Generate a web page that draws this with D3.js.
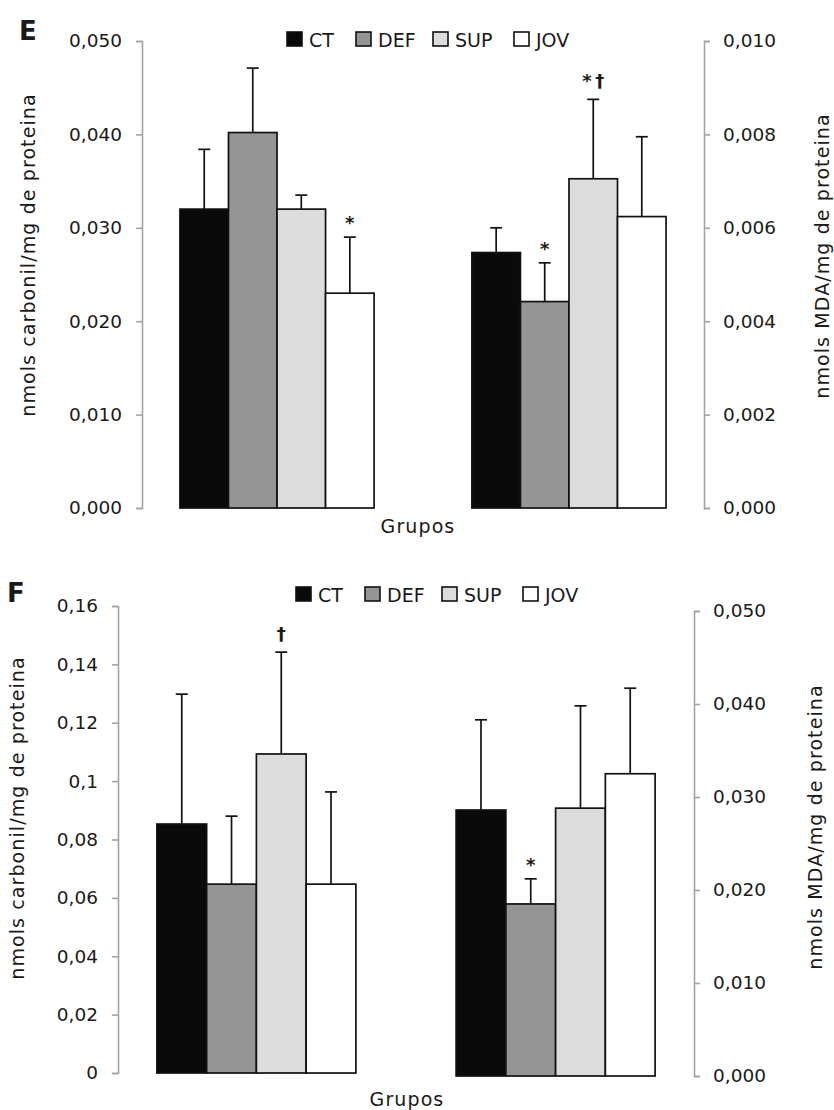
<!DOCTYPE html>
<html>
<head>
<meta charset="utf-8">
<script src="https://cdn.jsdelivr.net/npm/d3@7"></script>
<style>
  body { margin: 0; background: #fff; }
  svg text { font-family: "DejaVu Sans", sans-serif; fill: #1a1a1a; }
</style>
</head>
<body>
<div id="chart"></div>
<script>
// groups and colours
var groups = ["CT", "DEF", "SUP", "JOV"];
var groupColors = ["#0a0a0a", "#959595", "#dcdcdc", "#ffffff"];
var measures = ["carbonil", "MDA"];

// panel E
var eCarbonil = [0.0320, 0.0402, 0.0320, 0.0230];
var eCarbonilErr = [0.0064, 0.0069, 0.0015, 0.0060];
var eCarbonilSig = ["", "", "", "*"];
var eMda = [0.00547, 0.00442, 0.00705, 0.00624];
var eMdaErr = [0.00053, 0.00083, 0.00170, 0.00171];
var eMdaSig = ["", "*", "*\u2009†", ""];
var eLeftTicks = [0, 0.01, 0.02, 0.03, 0.04, 0.05];
var eRightTicks = [0, 0.002, 0.004, 0.006, 0.008, 0.01];

// panel F
var fCarbonil = [0.0853, 0.0647, 0.1093, 0.0647];
var fCarbonilErr = [0.0445, 0.0233, 0.0349, 0.0316];
var fCarbonilSig = ["", "", "†", ""];
var fMda = [0.0286, 0.0185, 0.0288, 0.0325];
var fMdaErr = [0.0097, 0.0027, 0.0110, 0.0092];
var fMdaSig = ["", "*", "", ""];
var fLeftTicks = [0, 0.02, 0.04, 0.06, 0.08, 0.1, 0.12, 0.14, 0.16];
var fRightTicks = [0, 0.01, 0.02, 0.03, 0.04, 0.05];

var leftLabel = "nmols carbonil/mg de proteina";
var rightLabel = "nmols MDA/mg de proteina";
var xLabel = "Grupos";

var pt = d3.formatLocale({decimal: ",", thousands: ".", grouping: [3], currency: ["", ""]});

var svg = d3.select("#chart")
  .append("svg")
  .attr("width", 834)
  .attr("height", 1110);

// layout of each panel
var panels = [
  {
    letter: "E", letterX: 19, letterY: 40,
    left: eCarbonil, leftErr: eCarbonilErr, leftSig: eCarbonilSig,
    right: eMda, rightErr: eMdaErr, rightSig: eMdaSig,
    leftTicks: eLeftTicks, rightTicks: eRightTicks,
    leftFmt: pt.format(".3f"), rightFmt: pt.format(".3f"),
    axisL: 142, axisR: 704,
    yL: [508, 41], yR: [508, 41],
    legendX: 287, legendY: 32,
    leftLabelPos: [35, 255], rightLabelPos: [829, 256],
    xLabelPos: [418, 533]
  },
  {
    letter: "F", letterX: 7, letterY: 602,
    left: fCarbonil, leftErr: fCarbonilErr, leftSig: fCarbonilSig,
    right: fMda, rightErr: fMdaErr, rightSig: fMdaSig,
    leftTicks: fLeftTicks, rightTicks: fRightTicks,
    leftFmt: pt.format(".2~f"), rightFmt: pt.format(".3f"),
    axisL: 118, axisR: 694,
    yL: [1073, 606], yR: [1076, 611],
    legendX: 296, legendY: 587,
    leftLabelPos: [24, 818], rightLabelPos: [822, 827],
    xLabelPos: [407, 1106]
  }
];

var legendOffsets = [0, 69, 146, 227];

panels.forEach(function(p) {
  var g = svg.append("g");

  // scales
  var x0 = d3.scaleBand()
    .domain(measures)
    .range([p.axisL, p.axisR])
    .paddingInner(0.335)
    .paddingOuter(0.13);
  var x1 = d3.scaleBand()
    .domain(groups)
    .range([0, x0.bandwidth()]);
  var yLeft = d3.scaleLinear()
    .domain([0, d3.max(p.leftTicks)])
    .range(p.yL);
  var yRight = d3.scaleLinear()
    .domain([0, d3.max(p.rightTicks)])
    .range(p.yR);

  // axes
  var axL = g.append("g")
    .attr("transform", "translate(" + p.axisL + ",0)")
    .call(d3.axisLeft(yLeft).tickValues(p.leftTicks).tickFormat(p.leftFmt)
      .tickSizeOuter(0).tickSize(6).tickPadding(14));
  var axR = g.append("g")
    .attr("transform", "translate(" + p.axisR + ",0)")
    .call(d3.axisRight(yRight).tickValues(p.rightTicks).tickFormat(p.rightFmt)
      .tickSizeOuter(0).tickSize(6).tickPadding(13));
  [axL, axR].forEach(function(ax) {
    ax.select(".domain").attr("stroke", "#a3a3a3").attr("stroke-width", 1.6);
    ax.selectAll(".tick line").attr("stroke", "#a3a3a3").attr("stroke-width", 1.6);
    ax.selectAll(".tick text")
      .attr("font-size", 18.5)
      .attr("font-family", "DejaVu Sans, sans-serif")
      .attr("fill", "#1a1a1a");
  });

  // bars + error bars for both measures
  var sets = [
    {m: "carbonil", vals: p.left, errs: p.leftErr, sig: p.leftSig, y: yLeft},
    {m: "MDA", vals: p.right, errs: p.rightErr, sig: p.rightSig, y: yRight}
  ];
  sets.forEach(function(s) {
    var rows = groups.map(function(k, i) {
      return {k: k, v: s.vals[i], e: s.errs[i], sig: s.sig[i], c: groupColors[i]};
    });
    var sg = g.append("g")
      .attr("transform", "translate(" + x0(s.m) + ",0)");

    // error bars (upper only), drawn first so bars cover the stem
    var eb = sg.selectAll(".err")
      .data(rows)
      .enter()
      .append("g");
    eb.append("line")
      .attr("x1", function(d) { return x1(d.k) + x1.bandwidth() / 2; })
      .attr("x2", function(d) { return x1(d.k) + x1.bandwidth() / 2; })
      .attr("y1", function(d) { return s.y(d.v); })
      .attr("y2", function(d) { return s.y(d.v + d.e); })
      .attr("stroke", "#111")
      .attr("stroke-width", 1.7);
    eb.append("line")
      .attr("x1", function(d) { return x1(d.k) + x1.bandwidth() / 2 - 6; })
      .attr("x2", function(d) { return x1(d.k) + x1.bandwidth() / 2 + 6; })
      .attr("y1", function(d) { return s.y(d.v + d.e); })
      .attr("y2", function(d) { return s.y(d.v + d.e); })
      .attr("stroke", "#111")
      .attr("stroke-width", 1.7);

    sg.selectAll(".bar")
      .data(rows)
      .enter()
      .append("rect")
      .attr("x", function(d) { return x1(d.k); })
      .attr("width", x1.bandwidth())
      .attr("y", function(d) { return s.y(d.v); })
      .attr("height", function(d) { return s.y(0) - s.y(d.v); })
      .attr("fill", function(d) { return d.c; })
      .attr("stroke", "#111")
      .attr("stroke-width", 1.7);

    // significance marks
    sg.selectAll(".sig")
      .data(rows.filter(function(d) { return d.sig !== ""; }))
      .enter()
      .append("text")
      .attr("x", function(d) { return x1(d.k) + x1.bandwidth() / 2; })
      .attr("y", function(d) {
        return s.y(d.v + d.e) - (d.sig.indexOf("†") >= 0 ? 12 : 8);
      })
      .attr("text-anchor", "middle")
      .attr("font-size", 18)
      .attr("font-weight", "bold")
      .text(function(d) { return d.sig; });
  });

  // legend
  var lg = g.append("g");
  groups.forEach(function(k, i) {
    var lx = p.legendX + legendOffsets[i];
    lg.append("rect")
      .attr("x", lx).attr("y", p.legendY)
      .attr("width", 15).attr("height", 14)
      .attr("fill", groupColors[i])
      .attr("stroke", "#111")
      .attr("stroke-width", 1.6);
    lg.append("text")
      .attr("x", lx + 22).attr("y", p.legendY + 15)
      .attr("font-size", 19)
      .text(k);
  });

  // axis labels
  g.append("text")
    .attr("text-anchor", "middle")
    .attr("font-size", 19)
    .attr("letter-spacing", 1.1)
    .attr("transform", "translate(" + p.leftLabelPos[0] + "," + p.leftLabelPos[1] + ")rotate(-90)")
    .text(leftLabel);
  g.append("text")
    .attr("text-anchor", "middle")
    .attr("font-size", 19)
    .attr("letter-spacing", 1.1)
    .attr("transform", "translate(" + p.rightLabelPos[0] + "," + p.rightLabelPos[1] + ")rotate(-90)")
    .text(rightLabel);
  g.append("text")
    .attr("text-anchor", "middle")
    .attr("font-size", 19)
    .attr("letter-spacing", 1.1)
    .attr("x", p.xLabelPos[0]).attr("y", p.xLabelPos[1])
    .text(xLabel);

  // panel letter
  g.append("text")
    .attr("x", p.letterX).attr("y", p.letterY)
    .attr("font-size", 26)
    .attr("font-weight", "bold")
    .text(p.letter);
});
</script>
</body>
</html>
